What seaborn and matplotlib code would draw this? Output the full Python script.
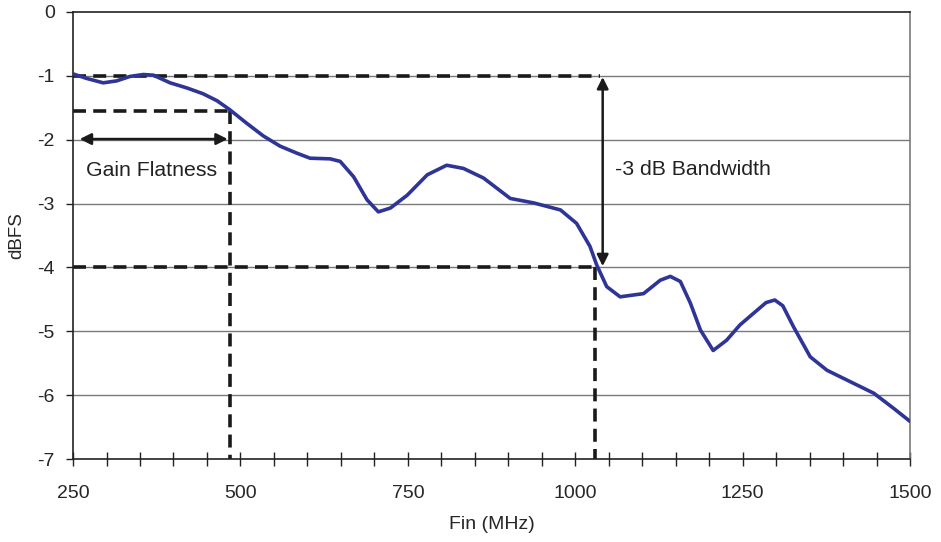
import numpy as np
import pandas as pd
import matplotlib
matplotlib.use("Agg")
import matplotlib.pyplot as plt
import seaborn as sns
from matplotlib.ticker import MultipleLocator

# Frequency response (MHz, dBFS)
freq_mhz = [250, 270, 295, 315, 335, 355, 370, 395, 420, 444, 465, 484, 509, 534,
            559, 584, 604, 634, 649, 669, 689, 706, 724, 749, 779, 808, 833, 863,
            903, 938, 978, 1002, 1022, 1032, 1047, 1067, 1102, 1127, 1142, 1157,
            1172, 1187, 1206, 1226, 1246, 1266, 1285, 1298, 1310, 1326, 1351, 1376,
            1411, 1446, 1476, 1500]
level_dbfs = [-0.97, -1.04, -1.11, -1.08, -1.01, -0.98, -0.99, -1.11, -1.19, -1.28,
              -1.39, -1.53, -1.74, -1.94, -2.10, -2.21, -2.29, -2.30, -2.34, -2.58,
              -2.94, -3.13, -3.07, -2.87, -2.55, -2.40, -2.45, -2.60, -2.92, -2.99,
              -3.10, -3.31, -3.67, -3.96, -4.30, -4.46, -4.41, -4.20, -4.14, -4.22,
              -4.56, -4.98, -5.30, -5.14, -4.90, -4.72, -4.55, -4.51, -4.60, -4.93,
              -5.40, -5.61, -5.79, -5.97, -6.21, -6.41]

# annotation levels
ref_level = -1.0
flat_level = -1.55
flat_freq = 484
bw_level = -4.0
bw_freq = 1030

sns.set_theme(style="white")
plt.rcParams['font.family'] = ['Liberation Sans', 'DejaVu Sans']
plt.rcParams['axes.unicode_minus'] = False

df = pd.DataFrame({'freq': freq_mhz, 'level': level_dbfs})

fig = plt.figure(figsize=(9.41, 5.42), dpi=100)
ax = fig.add_axes([0.0776, 0.153, 0.8895, 0.825])

# grid lines
for yv in range(-6, 0):
    ax.axhline(yv, color='#7a7a7a', lw=1.0, zorder=0)

dash = dict(color='#1a1a1a', lw=2.6, ls=(0, (3.6, 2.0)), zorder=2)
ax.plot([250, 1037], [ref_level, ref_level], **dash)
ax.plot([250, flat_freq], [flat_level, flat_level], **dash)
ax.plot([flat_freq, flat_freq], [flat_level, -7], **dash)
ax.plot([250, bw_freq], [bw_level, bw_level], **dash)
ax.plot([bw_freq, bw_freq], [bw_level, -7], **dash)

sns.lineplot(data=df, x='freq', y='level', sort=False, estimator=None,
             color='#2E3596', lw=2.6, ax=ax, zorder=3)
ax.lines[-1].set_solid_joinstyle('round')
ax.lines[-1].set_solid_capstyle('round')

# arrows
arrow = dict(arrowstyle='<|-|>', color='#1a1a1a', lw=1.8, mutation_scale=17,
             shrinkA=0, shrinkB=0)
ax.annotate('', xy=(260, -1.99), xytext=(481, -1.99), arrowprops=arrow)
ax.annotate('', xy=(1041, -1.02), xytext=(1041, -3.98), arrowprops=arrow)
ax.text(367, -2.48, 'Gain Flatness', fontsize=15.3, ha='center', va='center',
        color='#222222')
ax.text(1059, -2.47, '-3 dB Bandwidth', fontsize=15.3, ha='left', va='center',
        color='#222222')

ax.set_xlim(250, 1500)
ax.set_ylim(-7, 0)
ax.xaxis.set_major_locator(MultipleLocator(250))
ax.xaxis.set_minor_locator(MultipleLocator(50))
ax.yaxis.set_major_locator(MultipleLocator(1))
ax.tick_params(axis='x', which='both', direction='inout', length=10, width=1,
               color='#222222', bottom=True, labelsize=14, pad=14)
ax.tick_params(axis='y', which='major', direction='out', length=5, width=1,
               color='#222222', left=True, labelsize=14, pad=8)

ax.set_xlabel('Fin (MHz)', fontsize=14, labelpad=10)
ax.set_ylabel('dBFS', fontsize=13.5, labelpad=9)

for side in ['left', 'bottom', 'top']:
    ax.spines[side].set_color('#222222')
    ax.spines[side].set_linewidth(1.2)
ax.spines['right'].set_color('#7a7a7a')
ax.spines['right'].set_linewidth(1.2)

fig.savefig('out.png', dpi=100)
